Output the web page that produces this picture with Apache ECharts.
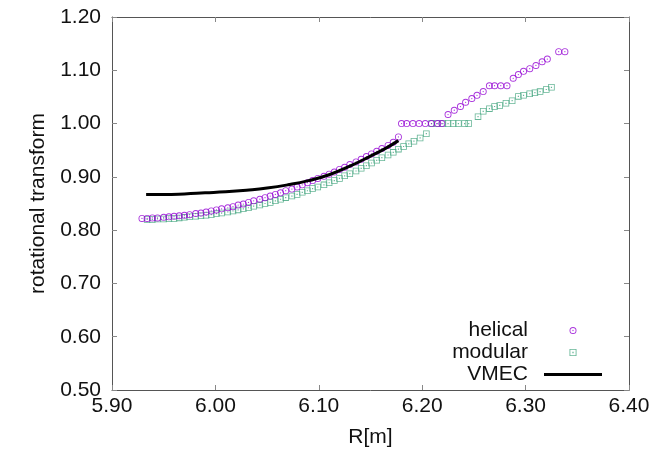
<!DOCTYPE html>
<html>
<head>
<meta charset="utf-8">
<script src="https://cdn.jsdelivr.net/npm/echarts@6/dist/echarts.min.js"></script>
<style>html,body{margin:0;padding:0;background:#fff;}#c{width:667px;height:458px;}</style>
</head>
<body>
<div id="c"></div>
<script>
const helicalR = [5.929,5.934,5.939,5.944,5.950,5.955,5.960,5.965,5.970,5.975,5.981,5.986,5.991,5.996,6.001,6.006,6.012,6.017,6.022,6.027,6.032,6.037,6.043,6.048,6.053,6.058,6.063,6.068,6.074,6.079,6.084,6.089,6.094,6.099,6.105,6.110,6.115,6.120,6.125,6.130,6.136,6.141,6.146,6.151,6.156,6.161,6.167,6.172,6.177,
  6.180,6.185,6.191,6.197,6.203,6.209,6.215,6.219,
  6.225,6.231,6.237,6.242,6.248,6.253,6.259,
  6.265,6.270,6.276,6.282,
  6.288,6.293,6.298,6.304,6.310,6.316,6.321,
  6.332,6.338];
const helicalIota = [0.822,0.822,0.823,0.823,0.824,0.825,0.826,0.827,0.828,0.829,0.831,0.832,0.834,0.836,0.838,0.840,0.842,0.844,0.847,0.849,0.852,0.855,0.858,0.861,0.864,0.867,0.870,0.874,0.877,0.881,0.885,0.889,0.893,0.897,0.901,0.905,0.909,0.914,0.918,0.923,0.928,0.933,0.938,0.943,0.948,0.953,0.959,0.965,0.975,
  1.000,1.000,1.000,1.000,1.000,1.000,1.000,1.000,
  1.017,1.025,1.032,1.040,1.047,1.053,1.060,
  1.071,1.071,1.071,1.071,
  1.085,1.092,1.098,1.103,1.109,1.116,1.121,
  1.135,1.135];
const modularR = [5.934,5.939,5.944,5.950,5.955,5.960,5.965,5.970,5.975,5.981,5.986,5.991,5.996,6.001,6.006,6.012,6.017,6.022,6.027,6.032,6.037,6.043,6.048,6.053,6.058,6.063,6.068,6.074,6.079,6.084,6.089,6.094,6.099,6.105,6.110,6.115,6.120,6.125,6.130,6.136,6.141,6.146,6.151,6.156,6.161,6.167,6.172,6.177,6.182,6.187,6.192,6.198,6.204,
  6.209,6.214,6.220,6.225,6.230,6.235,6.241,6.245,
  6.254,6.259,6.265,6.270,6.275,6.281,6.287,6.293,6.298,6.304,6.309,6.314,6.320,6.325];
const modularIota = [0.820,0.820,0.821,0.821,0.822,0.822,0.823,0.824,0.825,0.826,0.827,0.828,0.829,0.831,0.832,0.834,0.836,0.838,0.840,0.842,0.845,0.847,0.850,0.852,0.855,0.858,0.861,0.864,0.867,0.871,0.874,0.878,0.881,0.885,0.889,0.893,0.897,0.902,0.906,0.911,0.916,0.921,0.926,0.931,0.936,0.941,0.946,0.952,0.957,0.962,0.967,0.973,0.981,
  1.000,1.000,1.000,1.000,1.000,1.000,1.000,1.000,
  1.013,1.023,1.028,1.032,1.034,1.038,1.043,1.051,1.053,1.056,1.058,1.060,1.064,1.068];
const vmecR = [5.933,5.950,5.970,5.990,6.010,6.030,6.050,6.070,6.090,6.110,6.130,6.150,6.165,6.177];
const vmecIota = [0.867,0.867,0.868,0.870,0.872,0.875,0.879,0.885,0.893,0.904,0.920,0.939,0.954,0.968];
const xMin = 5.9, xMax = 6.4, xStep = 0.1;
const yMin = 0.5, yMax = 1.2, yStep = 0.1;

const zip = (a, b) => a.map((v, i) => [v, b[i]]);
const circleSym = 'path://M0,-10A10,10,0,1,1,0,10A10,10,0,1,1,0,-10Z M0,-7.4A7.4,7.4,0,1,0,0,7.4A7.4,7.4,0,1,0,0,-7.4Z M0,-1.8A1.8,1.8,0,1,1,0,1.8A1.8,1.8,0,1,1,0,-1.8Z';
const squareSym = 'path://M-10,-10H10V10H-10Z M-7.6,-7.6V7.6H7.6V-7.6Z M-1.8,-1.8H1.8V1.8H-1.8Z';
const lineIcon = 'path://M0,0H58V3H0Z';
const font = 'Liberation Sans, Arial, Helvetica, sans-serif';
const axisCommon = {
  type: 'value',
  axisLine: {show: true, lineStyle: {color: '#555', width: 1}},
  axisTick: {show: true, inside: true, length: 5, lineStyle: {color: '#888'}},
  splitLine: {show: false}
};
const chart = echarts.init(document.getElementById('c'));
chart.setOption({
  animation: false,
  textStyle: {fontFamily: font},
  grid: {left: 112, right: 38, top: 17, bottom: 68},
  xAxis: [
    Object.assign({}, axisCommon, {
      min: xMin, max: xMax, interval: xStep, position: 'bottom',
      name: 'R[m]', nameLocation: 'middle', nameGap: 37,
      nameTextStyle: {fontSize: 21, color: '#111', fontFamily: font},
      axisLabel: {fontSize: 21, color: '#111', margin: 6, fontFamily: font, formatter: v => v.toFixed(2)}
    }),
    Object.assign({}, axisCommon, {
      min: xMin, max: xMax, interval: xStep, position: 'top', axisLabel: {show: false}
    })
  ],
  yAxis: [
    Object.assign({}, axisCommon, {
      min: yMin, max: yMax, interval: yStep, position: 'left',
      name: 'rotational transform', nameLocation: 'middle', nameGap: 63,
      nameTextStyle: {fontSize: 21, color: '#111', fontFamily: font},
      axisLabel: {fontSize: 21, color: '#111', margin: 11, fontFamily: font, formatter: v => v.toFixed(2)}
    }),
    Object.assign({}, axisCommon, {
      min: yMin, max: yMax, interval: yStep, position: 'right', axisLabel: {show: false}
    })
  ],
  legend: {
    orient: 'vertical', right: 65, top: 320, align: 'right', padding: 0,
    itemWidth: 58, itemHeight: 7, itemGap: 1,
    textStyle: {fontSize: 21, color: '#111', lineHeight: 21, fontFamily: font, padding: [0, 11, 0, 0]},
    data: [{name: 'helical'}, {name: 'modular'}, {name: 'VMEC', icon: lineIcon}]
  },
  series: [
    {
      name: 'helical', type: 'scatter', symbol: circleSym, symbolSize: 7,
      itemStyle: {color: '#9400d3'},
      data: zip(helicalR, helicalIota), z: 3
    },
    {
      name: 'modular', type: 'scatter', symbol: squareSym, symbolSize: 6.5,
      itemStyle: {color: '#3fa37c'},
      data: zip(modularR, modularIota), z: 2
    },
    {
      name: 'VMEC', type: 'line', smooth: true, symbol: 'none', showSymbol: false,
      lineStyle: {color: '#000', width: 3},
      itemStyle: {color: '#000'},
      data: zip(vmecR, vmecIota), z: 4
    }
  ]
});
</script>
</body>
</html>
